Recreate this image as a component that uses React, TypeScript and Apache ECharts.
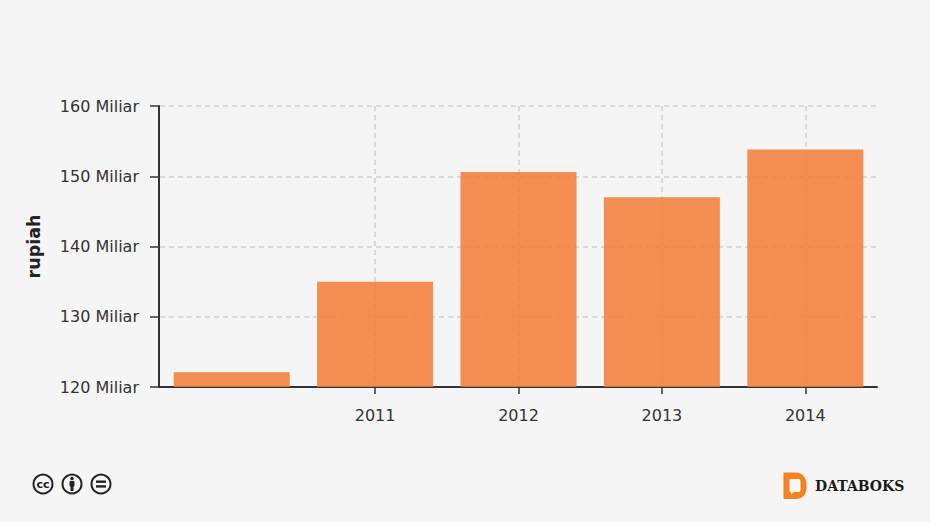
import React, { useEffect, useRef } from "react";
import * as echarts from "echarts";

const categories = ["", "2011", "2012", "2013", "2014"];
const values = [122.1, 135, 150.6, 147, 153.8];
const yTicks = { min: 120, max: 160, interval: 10 };
const yAxisName = "rupiah";
const brandText = "DATABOKS";

const FONT = "'DejaVu Sans', Verdana, sans-serif";

const LogoD = echarts.graphic.extendPath(
  "M0 0 L12 0 C19 0 23 5 23 12 L23 15 C23 22 19 26.5 12 26.5 L0 26.5 Z",
  {}
);
const LogoBubble = echarts.graphic.extendPath(
  "M0 1 Q0 0 1 0 L9 0 Q11 0 11 2 L11 11 Q11 13 9 13 L4 13 L1.5 15.5 L1.5 13 L1 13 Q0 13 0 12 Z",
  {}
);
echarts.graphic.registerShape("logoD", LogoD);
echarts.graphic.registerShape("logoBubble", LogoBubble);

const ink = "#222222";
const ringStyle = { fill: "#f5f5f5", stroke: ink, lineWidth: 2 };

export default function App() {
  const ref = useRef<HTMLDivElement>(null);
  useEffect(() => {
    document.body.style.margin = "0";
    const chart = echarts.init(ref.current!, undefined, { renderer: "svg" });
    const showTick = (_i: number, v: string) => v !== "";
    chart.setOption({
      animation: false,
      backgroundColor: "#f5f5f5",
      grid: { left: 160, right: 53, top: 106, bottom: 135, containLabel: false },
      xAxis: {
        type: "category",
        data: categories,
        axisLine: { show: true, lineStyle: { color: "#333", width: 2 } },
        axisTick: { show: true, alignWithLabel: true, length: 7, interval: showTick, lineStyle: { color: "#333", width: 1.5 } },
        axisLabel: { show: true, interval: 0, margin: 20, color: "#333", fontFamily: FONT, fontSize: 16 },
        splitLine: { show: true, alignWithLabel: true, interval: showTick, lineStyle: { color: "#d0d0d0", type: [5, 4], width: 1.5 } },
      },
      yAxis: {
        type: "value",
        offset: 1,
        min: yTicks.min,
        max: yTicks.max,
        interval: yTicks.interval,
        name: yAxisName,
        nameLocation: "middle",
        nameGap: 116,
        nameTextStyle: { color: "#222", fontFamily: FONT, fontSize: 17.5, fontWeight: "bold" },
        axisLine: { show: true, onZero: false, lineStyle: { color: "#333", width: 2 } },
        axisTick: { show: true, length: 9, lineStyle: { color: "#333", width: 1.5 } },
        axisLabel: { margin: 20, color: "#333", fontFamily: FONT, fontSize: 16, formatter: (v: number) => `${v} Miliar` },
        splitLine: { show: true, lineStyle: { color: "#d0d0d0", type: [5, 4], width: 1.5 } },
      },
      series: [
        {
          type: "bar",
          data: values,
          barWidth: 116,
          z: 3,
          itemStyle: { color: "rgba(243,122,52,0.85)" },
        },
      ],
      graphic: [
        { type: "circle", shape: { cx: 43, cy: 484, r: 9.5 }, style: ringStyle },
        { type: "text", x: 43, y: 484, style: { text: "cc", fill: ink, fontFamily: FONT, fontWeight: "bold", fontSize: 11, align: "center", verticalAlign: "middle" } },
        { type: "circle", shape: { cx: 72, cy: 484, r: 9.5 }, style: ringStyle },
        { type: "circle", shape: { cx: 72, cy: 478.5, r: 1.8 }, style: { fill: ink } },
        { type: "rect", shape: { x: 69.5, y: 481, width: 5, height: 5.5, r: 1 }, style: { fill: ink } },
        { type: "rect", shape: { x: 70.5, y: 485, width: 3, height: 6 }, style: { fill: ink } },
        { type: "circle", shape: { cx: 101, cy: 484, r: 9.5 }, style: ringStyle },
        { type: "rect", shape: { x: 96, y: 480.5, width: 10, height: 2.4 }, style: { fill: ink } },
        { type: "rect", shape: { x: 96, y: 485.2, width: 10, height: 2.4 }, style: { fill: ink } },
        { type: "logoD", x: 783.5, y: 472.5, style: { fill: "#f58220" } },
        { type: "logoBubble", x: 789.5, y: 479, style: { fill: "#f7f7f7" } },
        { type: "text", x: 815, y: 486, style: { text: brandText, fill: "#1a1a1a", fontFamily: "'DejaVu Serif', serif", fontWeight: "bold", fontSize: 14, align: "left", verticalAlign: "middle" } },
      ],
    });
    return () => chart.dispose();
  }, []);
  return <div ref={ref} style={{ width: 930, height: 522 }} />;
}
